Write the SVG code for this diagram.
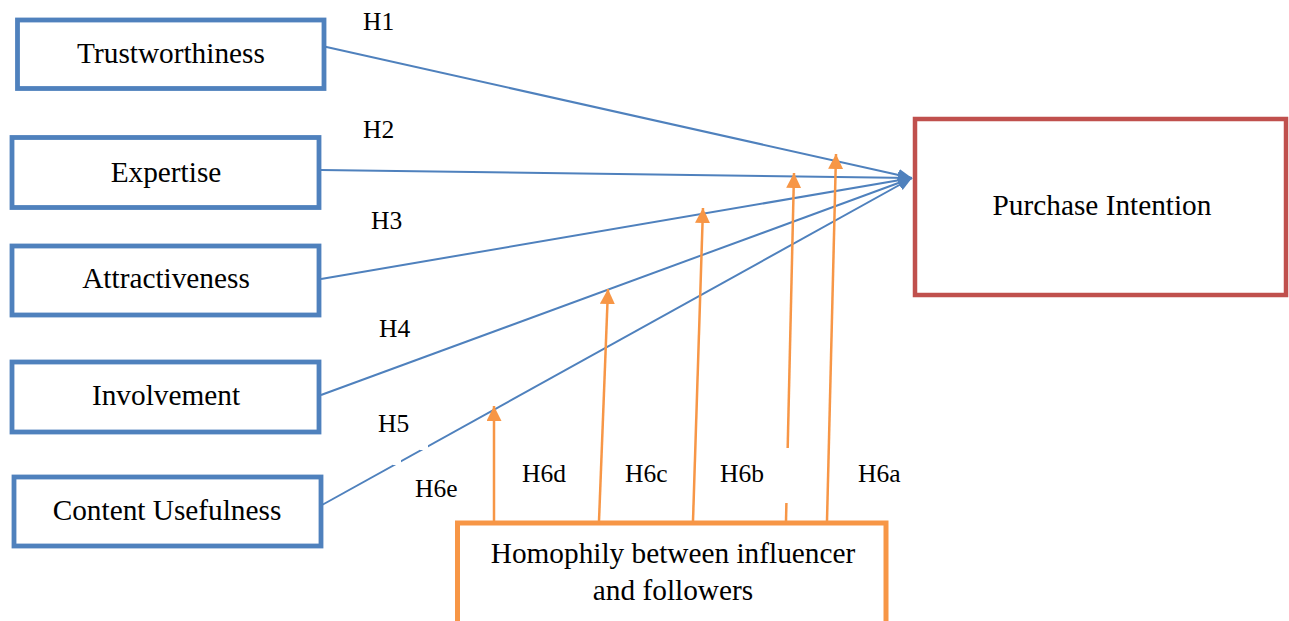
<svg xmlns="http://www.w3.org/2000/svg" width="1289" height="621" viewBox="0 0 1289 621">
<style>
text{font-family:"Liberation Serif","Times New Roman",serif;fill:#000}
.lbl{font-size:29.3px;text-anchor:middle}
.h{font-size:25.5px}
.bbox{fill:#fff;stroke:#4F81BD;stroke-width:4.8}
.blue{stroke:#4F81BD;stroke-width:2;fill:none}
.or{stroke:#F79646;stroke-width:2.5;fill:none}
</style>
<defs>
<marker id="ab" markerUnits="userSpaceOnUse" markerWidth="16" markerHeight="12" refX="14" refY="6" orient="auto">
<path d="M0,0 L14,6 L0,12 Z" fill="#4F81BD"/>
</marker>
<marker id="ao" markerUnits="userSpaceOnUse" markerWidth="16" markerHeight="16" refX="15" refY="7.5" orient="auto">
<path d="M0,0 L15,7.5 L0,15 Z" fill="#F79646"/>
</marker>
</defs>
<rect width="1289" height="621" fill="#fff"/>
<g id="connectors">
<line class="blue" x1="322" y1="46" x2="912" y2="178" marker-end="url(#ab)"/>
<line class="blue" x1="321" y1="170" x2="912" y2="178" marker-end="url(#ab)"/>
<line class="blue" x1="321" y1="279" x2="912" y2="178" marker-end="url(#ab)"/>
<line class="blue" x1="321" y1="395" x2="912" y2="178" marker-end="url(#ab)"/>
<line class="blue" x1="322" y1="505" x2="912" y2="178" marker-end="url(#ab)"/>
<line class="or" x1="494" y1="521" x2="494" y2="406" marker-end="url(#ao)"/>
<line class="or" x1="599" y1="521" x2="608" y2="289" marker-end="url(#ao)"/>
<line class="or" x1="693" y1="521" x2="703" y2="208" marker-end="url(#ao)"/>
<line class="or" x1="786" y1="521" x2="794" y2="173" marker-end="url(#ao)"/>
<line class="or" x1="827" y1="521" x2="836" y2="154" marker-end="url(#ao)"/>
<rect x="781" y="448" width="12" height="55" fill="#fff"/>
<rect x="420" y="444" width="8" height="6" fill="#fff"/>
<rect x="393" y="459" width="8" height="6" fill="#fff"/>
</g>
<g id="trustworthiness"><rect class="bbox" x="17.5" y="20" width="306.5" height="68.5"/><text class="lbl" x="171" y="63">Trustworthiness</text></g>
<g id="expertise"><rect class="bbox" x="12" y="137.5" width="307" height="70"/><text class="lbl" x="166" y="182">Expertise</text></g>
<g id="attractiveness"><rect class="bbox" x="12" y="246" width="307" height="69"/><text class="lbl" x="166" y="288">Attractiveness</text></g>
<g id="involvement"><rect class="bbox" x="12" y="362" width="307" height="70"/><text class="lbl" x="166" y="405">Involvement</text></g>
<g id="content-usefulness"><rect class="bbox" x="14" y="477" width="307" height="69"/><text class="lbl" x="167" y="520">Content Usefulness</text></g>
<g id="purchase-intention"><rect x="915" y="119" width="371" height="176" fill="#fff" stroke="#C0504D" stroke-width="4.5"/><text class="lbl" x="1102" y="215">Purchase Intention</text></g>
<g id="homophily"><rect x="457.5" y="523" width="428.5" height="110" fill="#fff" stroke="#F79646" stroke-width="5"/><text class="lbl" x="673" y="563">Homophily between influencer</text><text class="lbl" x="673" y="600">and followers</text></g>
<g id="labels">
<text class="h" x="363" y="30">H1</text>
<text class="h" x="363" y="138">H2</text>
<text class="h" x="371" y="229">H3</text>
<text class="h" x="379" y="337">H4</text>
<text class="h" x="378" y="432">H5</text>
<text class="h" x="415" y="497">H6e</text>
<text class="h" x="522" y="482">H6d</text>
<text class="h" x="625" y="482">H6c</text>
<text class="h" x="720" y="482">H6b</text>
<text class="h" x="858" y="482">H6a</text>
</g>
</svg>
